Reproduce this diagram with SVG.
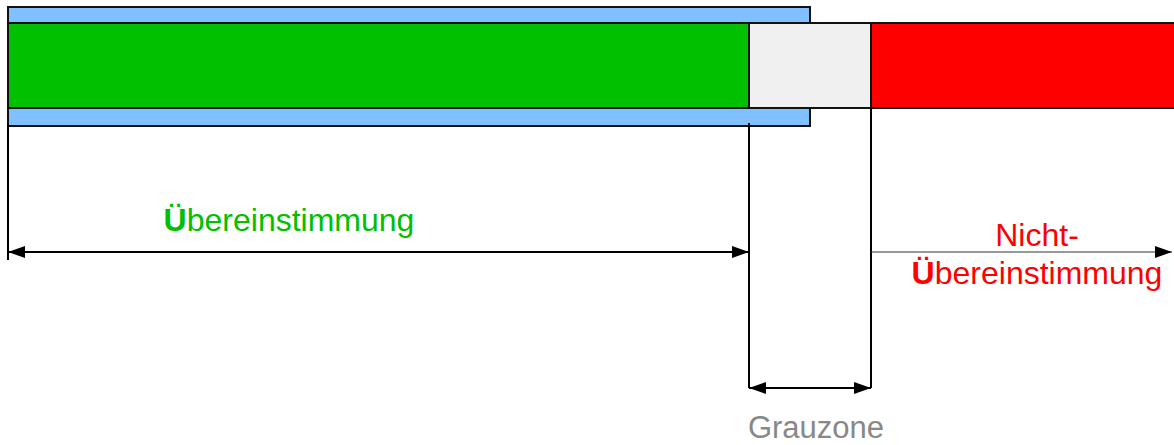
<svg xmlns="http://www.w3.org/2000/svg" width="1174" height="445" viewBox="0 0 1174 445">
<style>
.bar{stroke:#111;stroke-width:2}
.ln{stroke:#000;stroke-width:2;fill:none}
.thin{stroke:#333;stroke-width:1.2;fill:none}
text{font-family:"Liberation Sans",Arial,sans-serif;text-anchor:middle}
</style>
<defs>
<marker id="ah" viewBox="0 0 17 12" refX="17" refY="6" markerWidth="17" markerHeight="12" markerUnits="userSpaceOnUse" orient="auto-start-reverse">
<path d="M0,0 L17,6 L0,12 Z" fill="#000"/>
</marker>
</defs>
<g id="band"><rect class="bar" x="8" y="7" width="802" height="119" fill="#80C0FF"/></g>
<g id="green"><rect class="bar" x="8" y="23" width="741" height="85" fill="#00C000"/></g>
<g id="grey"><rect class="bar" x="749" y="23" width="122" height="85" fill="#F0F0F0"/></g>
<g id="red"><rect class="bar" x="871" y="23" width="305" height="85" fill="#FF0000"/></g>
<g id="connectors">
<line class="ln" x1="8" y1="123" x2="8" y2="260"/>
<line class="ln" x1="749" y1="123" x2="749" y2="388"/>
<line class="ln" x1="871" y1="108" x2="871" y2="388"/>
<line class="ln" x1="8" y1="252" x2="749" y2="252" marker-start="url(#ah)" marker-end="url(#ah)"/>
<line class="ln" x1="749" y1="388" x2="871" y2="388" marker-start="url(#ah)" marker-end="url(#ah)"/>
<line class="thin" x1="871" y1="252" x2="1172" y2="252" marker-end="url(#ah)"/>
</g>
<g id="labels">
<text x="289" y="231" font-size="32" fill="#00C000"><tspan font-weight="bold">Ü</tspan>bereinstimmung</text>
<text x="1037" y="246" font-size="32" fill="#FF0000">Nicht-</text>
<text x="1037" y="284" font-size="32" fill="#FF0000"><tspan font-weight="bold">Ü</tspan>bereinstimmung</text>
<text x="816" y="438" font-size="31" fill="#888888">Grauzone</text>
</g>
</svg>
